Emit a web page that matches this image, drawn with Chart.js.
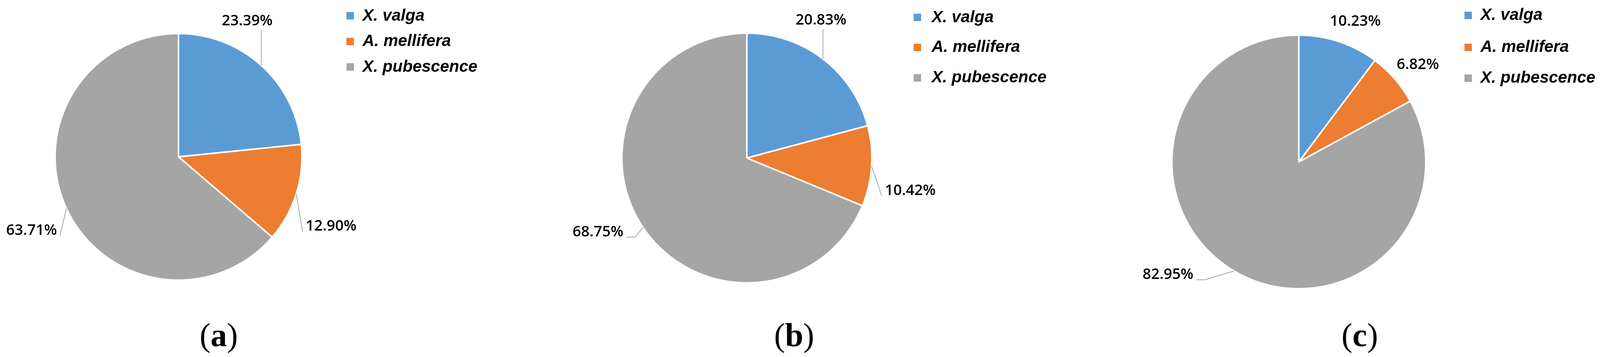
<!DOCTYPE html>
<html>
<head>
<meta charset="utf-8">
<script src="https://cdn.jsdelivr.net/npm/chart.js@4.4.1/dist/chart.umd.min.js"></script>
<style>
html, body { margin: 0; padding: 0; background: #fff; }
#wrap { position: relative; width: 4099px; height: 915px; overflow: hidden; background: #fff; }
canvas { position: absolute; top: 0; }
.legend-text { position: absolute; font: italic bold 42px "Liberation Sans", Arial, sans-serif; line-height: 42px; color: #000; white-space: nowrap; }
.swatch { position: absolute; width: 19px; height: 19px; }
.caption { position: absolute; width: 200px; text-align: center; font: 84px "Liberation Serif", "Times New Roman", serif; line-height: 84px; color: #000; }
</style>
</head>
<body>
<div id="wrap"></div>
<script>
// data
const categories = ["X. valga", "A. mellifera", "X. pubescence"];
const shareA = [23.39, 12.90, 63.71];
const shareB = [20.83, 10.42, 68.75];
const shareC = [10.23, 6.82, 82.95];
const panelTags = ["a", "b", "c"];

const sliceColors = ["#5B9BD5", "#ED7D31", "#A5A5A5"];

// layout of each panel (canvas placement, pie centre/radius, label offsets from slice edge)
const panels = [
  { left: 0, width: 1400, cx: 457, cy: 402, r: 316, values: shareA,
    offsets: [[-36, -115], [89, 82], [-89, 55]], leaders: [true, true, true],
    swatchX: 887, textX: 928, rows: [40.5, 106, 171.5], captionX: 560 },
  { left: 1400, width: 1400, cx: 512, cy: 405, r: 320, values: shareB,
    offsets: [[-5, -101], [99, 61], [-115, 10]], leaders: [true, true, true],
    swatchX: 2339, textX: 2385, rows: [44.5, 121, 199], captionX: 2033 },
  { left: 2800, width: 1299, cx: 525, cy: 415, r: 325, values: shareC,
    offsets: [[42, -53], [59, -38], [-169, 7.5]], leaders: [false, false, true],
    swatchX: 3749, textX: 3790, rows: [39, 121, 200], captionX: 3481 }
];

function makeLabelPlugin(p) {
  return {
    id: "sliceLabels",
    afterDatasetsDraw(chart) {
      const ctx = chart.ctx;
      const meta = chart.getDatasetMeta(0);
      const values = chart.data.datasets[0].data;
      ctx.save();
      ctx.font = '600 38px "Open Sans", "Liberation Sans", Arial, sans-serif';
      ctx.textAlign = "center";
      ctx.textBaseline = "middle";
      meta.data.forEach((arc, i) => {
        const { x, y, startAngle, endAngle, outerRadius } =
          arc.getProps(["x", "y", "startAngle", "endAngle", "outerRadius"], true);
        const mid = (startAngle + endAngle) / 2;
        const ex = x + Math.cos(mid) * outerRadius;
        const ey = y + Math.sin(mid) * outerRadius;
        const lx = ex + p.offsets[i][0];
        const ly = ey + p.offsets[i][1];
        const text = values[i].toFixed(2) + "%";
        const halfW = ctx.measureText(text).width / 2;

        if (p.leaders[i]) {
          ctx.strokeStyle = "#A6A6A6";
          ctx.lineWidth = 2;
          ctx.beginPath();
          ctx.moveTo(ex, ey);
          if (Math.abs(ex - lx) <= halfW) {
            // label sits above/below the slice edge
            ctx.lineTo(ex, ey < ly ? ly - 24 : ly + 24);
          } else {
            const side = ex > lx ? 1 : -1;
            const endX = lx + side * (halfW + 8);
            const endY = ly + 15;
            if (Math.abs(ex - endX) > Math.abs(ey - endY)) {
              ctx.lineTo(endX + side * 22, endY);
            }
            ctx.lineTo(endX, endY);
          }
          ctx.stroke();
        }
        ctx.fillStyle = "#000";
        ctx.fillText(text, lx, ly + 2);
      });
      ctx.restore();
    }
  };
}

const wrap = document.getElementById("wrap");

panels.forEach((p, k) => {
  const canvas = document.createElement("canvas");
  canvas.width = p.width;
  canvas.height = 915;
  canvas.style.left = p.left + "px";
  wrap.appendChild(canvas);

  new Chart(canvas, {
    type: "pie",
    data: {
      labels: categories,
      datasets: [{
        data: p.values,
        backgroundColor: sliceColors,
        borderColor: "#ffffff",
        borderWidth: 4
      }]
    },
    options: {
      responsive: false,
      animation: false,
      devicePixelRatio: 1,
      events: [],
      radius: p.r,
      layout: {
        padding: { left: 0, top: 0, right: p.width - 2 * p.cx, bottom: 915 - 2 * p.cy }
      },
      plugins: {
        legend: { display: false },
        tooltip: { enabled: false }
      }
    },
    plugins: [makeLabelPlugin(p)]
  });

  // legend
  categories.forEach((name, i) => {
    const sw = document.createElement("div");
    sw.className = "swatch";
    sw.style.left = p.swatchX + "px";
    sw.style.top = (p.rows[i] - 9.5) + "px";
    sw.style.background = sliceColors[i];
    wrap.appendChild(sw);

    const t = document.createElement("div");
    t.className = "legend-text";
    t.style.left = p.textX + "px";
    t.style.top = (p.rows[i] - 23) + "px";
    t.textContent = name;
    wrap.appendChild(t);
  });

  // caption
  const cap = document.createElement("div");
  cap.className = "caption";
  cap.style.left = (p.captionX - 100) + "px";
  cap.style.top = "817px";
  cap.innerHTML = "(<b>" + panelTags[k] + "</b>)";
  wrap.appendChild(cap);
});
</script>
</body>
</html>
